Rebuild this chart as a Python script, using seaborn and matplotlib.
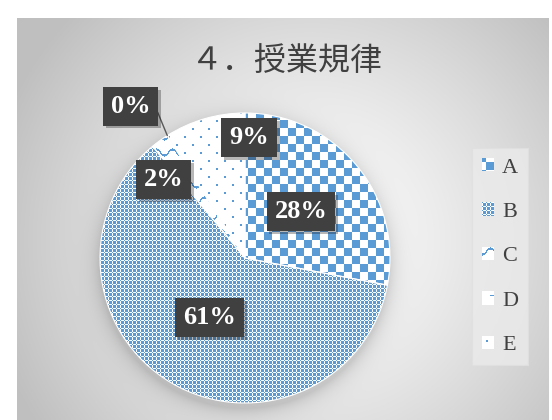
import numpy as np
import matplotlib
matplotlib.use('Agg')
import matplotlib.pyplot as plt
import matplotlib.patheffects as pe
from matplotlib.patches import Patch
import seaborn as sns

# データ（円グラフの各区分）
categories = ['A', 'B', 'C', 'D', 'E']
counts = [28, 61, 2, 0, 9]
title = '４．授業規律'

sns.set_theme(style='white')
plt.rcParams['font.family'] = ['Liberation Serif', 'DejaVu Serif']

W, H = 552, 420
blue = np.array(sns.color_palette(['#5b9bd5'])[0])
cx, cy, R = 245, 258, 145

fig = plt.figure(figsize=(W / 100, H / 100), dpi=100)
ax = fig.add_axes([0, 0, 1, 1])

yy, xx = np.mgrid[0:H, 0:W]

# 背景（放射グラデーション + 円の影）
d = np.hypot(xx - 310, yy - 240)
v = 1 - 0.25 * np.clip(d / 330, 0, 1) ** 1.3
d2 = np.hypot(xx - cx + 1, yy - cy - 5)
shadow = 0.15 * np.exp(-np.clip(d2 - R, 0, None) / 9.0) * (d2 > R - 8)
v = v * (1 - shadow)
inside = (xx >= 17) & (xx <= 548) & (yy >= 18)
v[~inside] = 1.0
bg = np.dstack([v, v, v])
ax.imshow(bg, extent=(0, W, H, 0), origin='upper', interpolation='nearest', zorder=0)


# パターン塗り
def make_pattern(mask):
    img = np.ones((H, W, 3))
    img[mask] = blue
    return img


pat_a = make_pattern(((xx // 8) + (yy // 8)) % 2 == 0)
pat_b = make_pattern(~((xx % 4 == 0) ^ (yy % 4 == 0)))
pat_c = make_pattern(np.abs(((yy - 3 * np.sin(2 * np.pi * xx / 16)) % 16) - 8) < 1.1)
pat_d = make_pattern((xx % 16 >= 12) & (yy % 16 == 8))
pat_e = make_pattern(((xx % 16 < 2) & (yy % 16 < 2)) | (((xx + 8) % 16 < 2) & ((yy + 8) % 16 < 2)))
patterns = [pat_a, pat_b, pat_c, pat_d, pat_e]

wedges, _ = ax.pie(counts, center=(cx, cy), radius=R, startangle=-90, counterclock=True,
                   wedgeprops=dict(fc='none', ec='white', lw=0.8, zorder=3))

for w, pat in zip(wedges, patterns):
    im = ax.imshow(pat, extent=(0, W, H, 0), origin='upper', interpolation='nearest', zorder=2)
    im.set_clip_path(w)

# ラベル
total = sum(counts)
pct = [f'{c / total * 100:.0f}%' for c in counts]
lab_ang = [None, None, 136, 127, 88]
lab_r = [0.5, 0.48, 0.78, 1.31, 0.83]

for i, w in enumerate(wedges):
    if lab_ang[i] is None:
        th = np.deg2rad((w.theta1 + w.theta2) / 2)
    else:
        th = np.deg2rad(-lab_ang[i])
    lx = cx + lab_r[i] * R * np.cos(th)
    ly = cy + lab_r[i] * R * np.sin(th)
    if lab_r[i] > 1:
        ex = cx + R * np.cos(np.deg2rad(w.theta1))
        ey = cy + R * np.sin(np.deg2rad(w.theta1))
        ax.plot([lx + 27, ex], [ly + 6, ey], color='#595959', lw=1, zorder=4)
    t = ax.text(lx, ly, pct[i], ha='center', va='center', color='white', fontsize=19,
                fontweight='bold', zorder=6,
                bbox=dict(boxstyle='square,pad=0.3', fc='#404040', ec='none'))
    t.get_bbox_patch().set_path_effects([pe.withSimplePatchShadow(offset=(2, -2), alpha=0.3)])

ax.text(287, 61, title, ha='center', va='center', fontsize=23, color='#404040',
        family=['Noto Sans CJK JP', 'DejaVu Sans'], zorder=6)

# 凡例
handles = [Patch(fc='white', ec='none') for _ in categories]
leg = ax.legend(handles, categories, loc='upper left', bbox_to_anchor=(472 / W, 1 - 148 / H),
                bbox_transform=fig.transFigure, fontsize=16, handlelength=0.55, handleheight=0.55,
                handletextpad=0.35, labelspacing=1.12, borderpad=0.45, borderaxespad=0,
                fancybox=False, frameon=True, labelcolor='#404040')
leg.get_frame().set_facecolor('#ebebeb')
leg.get_frame().set_edgecolor('#e0e0e0')
leg.get_frame().set_linewidth(0.8)

ax.set_xlim(0, W)
ax.set_ylim(H, 0)
ax.axis('off')

fig.canvas.draw()
for p, pat in zip(leg.get_patches(), patterns):
    bb = p.get_window_extent()
    x0, x1 = int(round(bb.x0)), int(round(bb.x1))
    y0, y1 = int(round(H - bb.y1)), int(round(H - bb.y0))
    sub = pat[4:4 + (y1 - y0), 4:4 + (x1 - x0)]
    ax.imshow(sub, extent=(x0, x1, y1, y0), origin='upper', interpolation='nearest', zorder=7)

ax.set_xlim(0, W)
ax.set_ylim(H, 0)
fig.savefig('out.png', dpi=100)
